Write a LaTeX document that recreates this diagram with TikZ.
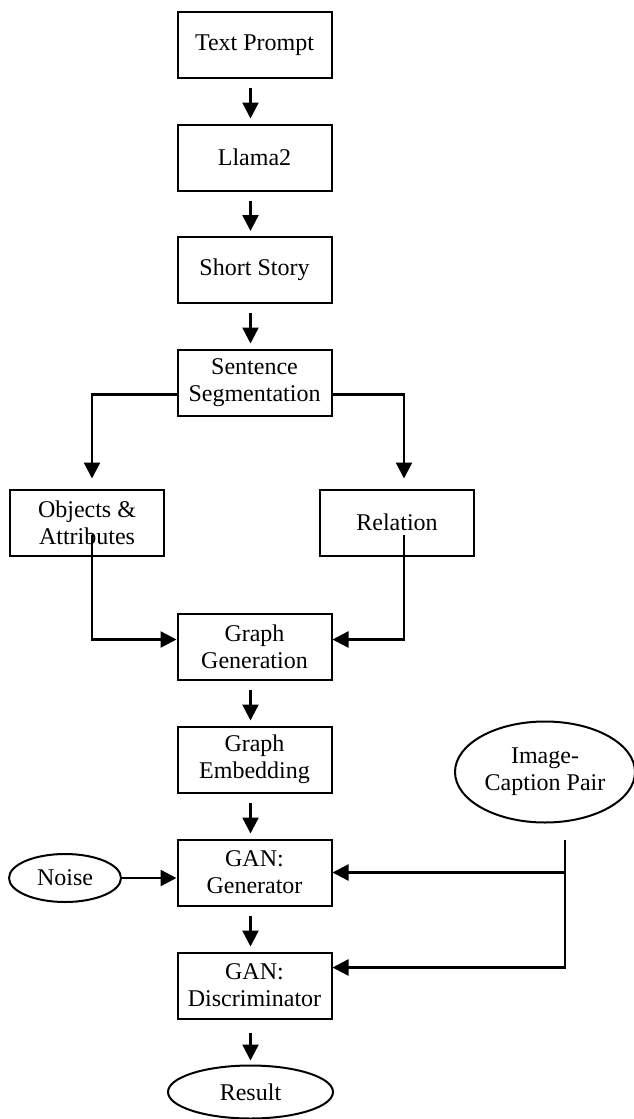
\documentclass[tikz,border=0pt]{standalone}
\usepackage{fontspec}
\setmainfont{Liberation Serif}
\usetikzlibrary{arrows.meta,positioning,shapes.geometric}

\begin{document}
\begin{tikzpicture}[
    stage/.style={draw=black,line width=1pt,minimum width=77pt,minimum height=33pt,
      inner sep=2pt,align=center,font=\fontsize{12pt}{13.5pt}\selectfont},
    oval/.style={ellipse,draw=black,line width=1pt,inner sep=0pt,align=center,
      font=\fontsize{12pt}{13.5pt}\selectfont},
    flow/.style={-{Triangle[length=8pt,width=8pt]},line width=1.2pt}]
  \useasboundingbox (0,0) rectangle (316.5pt,-559.5pt);
  \node[stage] (prompt) at (127.25pt,-22.5pt) {Text Prompt};
  \node[stage,below=22.25pt of prompt] (llama) {Llama2};
  \node[stage,below=22.25pt of llama] (story) {Short Story};
  \node[stage,below=22.25pt of story] (segment) {Sentence\\Segmentation};
  \node[stage,below=36pt of segment,xshift=-83.75pt] (objects) {Objects \&\\Attributes};
  \node[stage,below=36pt of segment,xshift=71.25pt] (relation) {Relation};
  \node[stage,below=98pt of segment] (graphgen) {Graph\\Generation};
  \node[stage,below=22.5pt of graphgen] (graphemb) {Graph\\Embedding};
  \node[stage,below=22.5pt of graphemb] (generator) {GAN:\\Generator};
  \node[stage,below=22.5pt of generator] (discrim) {GAN:\\Discriminator};
  \node[oval,minimum width=82.5pt,minimum height=26.5pt] (result) at (125.25pt,-546pt) {Result};
  \node[oval,minimum width=56pt,minimum height=24pt] (noise) at (32.5pt,-439pt) {Noise};
  \node[oval,minimum width=90pt,minimum height=50.5pt] (pair) at (272.5pt,-386pt) {Image-\\Caption Pair};
  \coordinate (split) at (282.5pt,-420pt);
  % main column
  \foreach \from/\to in {prompt/llama,llama/story,story/segment,graphgen/graphemb,
      graphemb/generator,generator/discrim}
    \draw[flow,shorten <=4.5pt,shorten >=2.5pt] ([xshift=-2pt]\from.south) -- ([xshift=-2pt]\to.north);
  \draw[flow,shorten <=6.5pt,shorten >=2pt] ([xshift=-2pt]discrim.south) -- (result.north);
  % branches
  \draw[flow,shorten >=5pt] ([yshift=-6pt]segment.west) -| ([xshift=2.5pt]objects.north);
  \draw[flow,shorten >=5pt] ([yshift=-6pt]segment.east) -| ([xshift=3.5pt]relation.north);
  \draw[flow] ([xshift=2.5pt,yshift=-6pt]objects.center) |- ([yshift=3.5pt]graphgen.west);
  \draw[flow] ([xshift=3.5pt,yshift=-6pt]relation.center) |- ([yshift=3.5pt]graphgen.east);
  % GAN inputs
  \draw[flow] (noise.east) -- (noise.east -| generator.west);
  \draw[flow] (split) |- (generator.east);
  \draw[flow] (split) |- ([yshift=9pt]discrim.east);
\end{tikzpicture}
\end{document}
